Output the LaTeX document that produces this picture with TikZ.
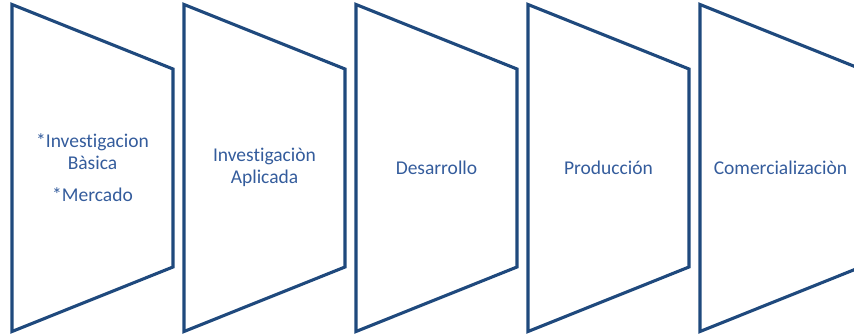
\documentclass[tikz,border=0pt]{standalone}
\usepackage{fontspec}
\setmainfont{Carlito}[Ligatures=NoCommon]
\usepackage{tikz}
\usepackage{xcolor}
\usetikzlibrary{positioning}
\definecolor{panelblue}{RGB}{31,73,125}
\definecolor{textblue}{RGB}{52,92,156}

\begin{document}
\begin{tikzpicture}[x=1pt, y=-1pt, node distance=172pt, every node/.style={font=\fontsize{19.5}{21.7}\selectfont, text=textblue, align=center}, panel/.style={draw=panelblue, line width=3.1pt, line join=miter}]
  \clip (0,0) rectangle (854,334);
  \node (bas) at (92.5,167.5) {*Investigacion\\Bàsica\\[10pt]*Mercado};
  \node (apl) [right of=bas] {Investigaciòn\\Aplicada};
  \node (des) [right of=apl] {Desarrollo};
  \node (pro) [right of=des] {Producción};
  \node (com) [right of=pro] {Comercializaciòn};
  \foreach \n in {bas,apl,des,pro,com}
    \draw[panel] ([shift={(-80.5,-163)}]\n.center) -- ([shift={(80.5,-98.5)}]\n.center)
      -- ([shift={(80.5,99.5)}]\n.center) -- ([shift={(-80.5,164)}]\n.center) -- cycle;
\end{tikzpicture}
\end{document}
